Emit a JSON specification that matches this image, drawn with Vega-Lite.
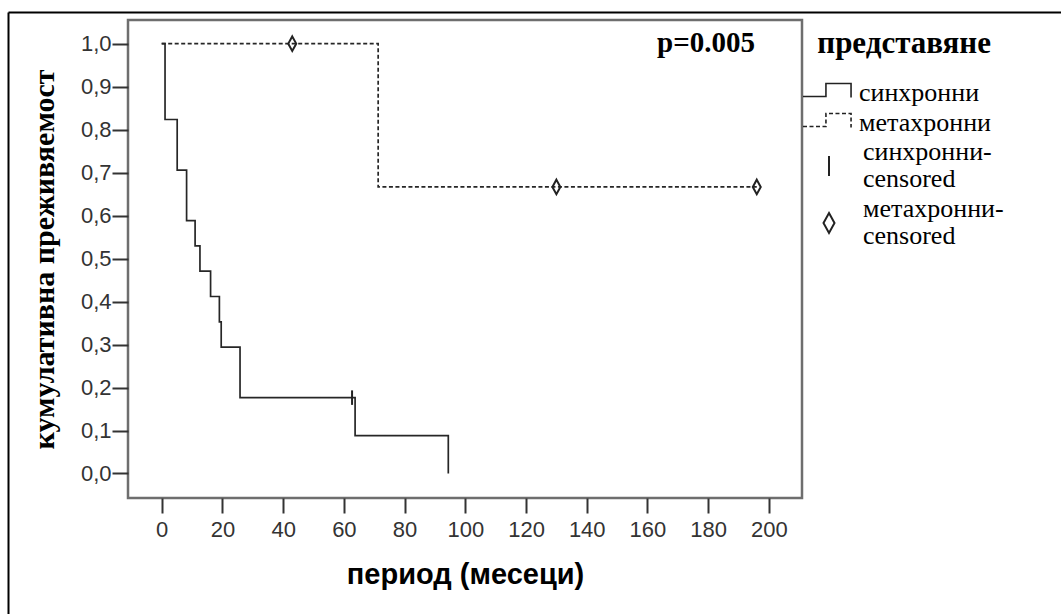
{
  "$schema": "https://vega.github.io/schema/vega-lite/v6.json",
  "width": 674,
  "height": 478,
  "autosize": {"type": "none"},
  "padding": {"left": 128, "top": 20, "right": 259, "bottom": 116},
  "background": "white",
  "config": {
    "view": {"stroke": "#6e6e6e", "strokeWidth": 2.5},
    "style": {"guide-label": {"lineHeight": 27}},
    "axis": {
      "domain": false, "grid": false, "ticks": true,
      "tickColor": "#333", "tickWidth": 2, "tickSize": 15,
      "labelFont": "Liberation Sans", "labelFontSize": 22, "labelColor": "#333",
      "titleColor": "#000"
    },
    "legend": {
      "padding": 0,
      "labelFont": "Liberation Serif", "labelFontSize": 26, "labelColor": "#000",
      "titleFont": "Liberation Serif", "titleFontWeight": "bold", "titleFontSize": 31, "titleColor": "#000",
      "labelLimit": 400
    }
  },
  "datasets": {
    "curves": [
      {"group": "синхронни", "t": 0, "s": 1.0},
      {"group": "синхронни", "t": 1.1, "s": 0.8235},
      {"group": "синхронни", "t": 5.1, "s": 0.7059},
      {"group": "синхронни", "t": 8.2, "s": 0.5882},
      {"group": "синхронни", "t": 11.0, "s": 0.5294},
      {"group": "синхронни", "t": 12.6, "s": 0.4706},
      {"group": "синхронни", "t": 16.1, "s": 0.4118},
      {"group": "синхронни", "t": 19.0, "s": 0.3529},
      {"group": "синхронни", "t": 19.6, "s": 0.2941},
      {"group": "синхронни", "t": 25.8, "s": 0.1765},
      {"group": "синхронни", "t": 63.7, "s": 0.0882},
      {"group": "синхронни", "t": 94.4, "s": 0.0},
      {"group": "метахронни", "t": 0, "s": 1.0},
      {"group": "метахронни", "t": 71.3, "s": 0.6667},
      {"group": "метахронни", "t": 196, "s": 0.6667}
    ],
    "censored": [
      {"cens": "синхронни-censored", "t": 62.7, "s": 0.1765},
      {"cens": "метахронни-censored", "t": 43, "s": 1.0},
      {"cens": "метахронни-censored", "t": 130, "s": 0.6667},
      {"cens": "метахронни-censored", "t": 196, "s": 0.6667}
    ]
  },
  "layer": [
    {
      "data": {"name": "curves"},
      "mark": {"type": "line", "interpolate": "step-after", "strokeWidth": 1.7, "color": "#262626"},
      "encoding": {
        "x": {
          "field": "t", "type": "quantitative",
          "scale": {"domain": [-11.1, 210.9], "nice": false, "zero": false},
          "axis": {
            "values": [0, 20, 40, 60, 80, 100, 120, 140, 160, 180, 200],
            "labelPadding": 6,
            "title": "период (месеци)",
            "titleFont": "Liberation Sans", "titleFontWeight": "bold", "titleFontSize": 29,
            "titlePadding": 20
          }
        },
        "y": {
          "field": "s", "type": "quantitative",
          "scale": {"domain": [-0.057, 1.055], "nice": false, "zero": false},
          "axis": {
            "values": [0, 0.1, 0.2, 0.3, 0.4, 0.5, 0.6, 0.7, 0.8, 0.9, 1.0],
            "labelExpr": "replace(format(datum.value, '.1f'), '.', ',')",
            "labelPadding": 1, "tickSize": 16,
            "title": "кумулативна преживяемост",
            "titleFont": "Liberation Serif", "titleFontWeight": "bold", "titleFontSize": 30,
            "titlePadding": 21
          }
        },
        "strokeDash": {
          "field": "group", "type": "nominal",
          "scale": {"domain": ["синхронни", "метахронни"], "range": [[1, 0], [4, 2.5]]},
          "legend": {
            "orient": "none", "legendX": 674, "legendY": 9,
            "title": "представяне",
            "titleAnchor": "end", "titlePadding": 16,
            "labelOffset": 24,
            "symbolType": "M-1,0.26H0.48V-0.58H2.1V0.32",
            "symbolSize": 961, "symbolStrokeWidth": 1.6,
            "symbolFillColor": "transparent", "symbolStrokeColor": "#222",
            "rowPadding": 0
          }
        }
      }
    },
    {
      "data": {"name": "censored"},
      "mark": {"type": "point", "filled": false, "size": 210, "strokeWidth": 2, "color": "#222", "opacity": 1},
      "encoding": {
        "x": {"field": "t", "type": "quantitative", "scale": {"domain": [-11.1, 210.9], "nice": false, "zero": false}},
        "y": {"field": "s", "type": "quantitative", "scale": {"domain": [-0.057, 1.055], "nice": false, "zero": false}},
        "shape": {
          "field": "cens", "type": "nominal",
          "scale": {
            "domain": ["синхронни-censored", "метахронни-censored"],
            "range": ["M0,-1V1", "M0,-1L0.55,0L0,1L-0.55,0Z"]
          },
          "legend": {
            "orient": "none", "legendX": 688, "legendY": 133,
            "title": null,
            "labelExpr": "[replace(datum.label, 'censored', ''), 'censored']",
            "labelBaseline": "line-bottom",
            "labelOffset": 21,
            "symbolSize": 400, "symbolStrokeWidth": 2,
            "symbolFillColor": "transparent", "symbolStrokeColor": "#222",
            "rowPadding": 4
          }
        }
      }
    },
    {
      "data": {"values": [{}]},
      "mark": {"type": "text", "align": "right", "baseline": "alphabetic", "font": "Liberation Serif", "fontWeight": "bold", "fontSize": 29, "color": "#000"},
      "encoding": {
        "x": {"datum": 195.4, "type": "quantitative"},
        "y": {"datum": 0.98, "type": "quantitative"},
        "text": {"value": "p=0.005"}
      }
    },
    {
      "data": {"values": [{}]},
      "mark": {"type": "rule", "color": "#000", "strokeWidth": 2},
      "encoding": {
        "x": {"datum": -50.46, "type": "quantitative"},
        "y": {"datum": 1.0724, "type": "quantitative"},
        "y2": {"datum": -0.6}
      }
    },
    {
      "data": {"values": [{}]},
      "mark": {"type": "rule", "color": "#000", "strokeWidth": 2},
      "encoding": {
        "x": {"datum": -50.46, "type": "quantitative"},
        "x2": {"datum": 400},
        "y": {"datum": 1.0724, "type": "quantitative"}
      }
    }
  ]
}
